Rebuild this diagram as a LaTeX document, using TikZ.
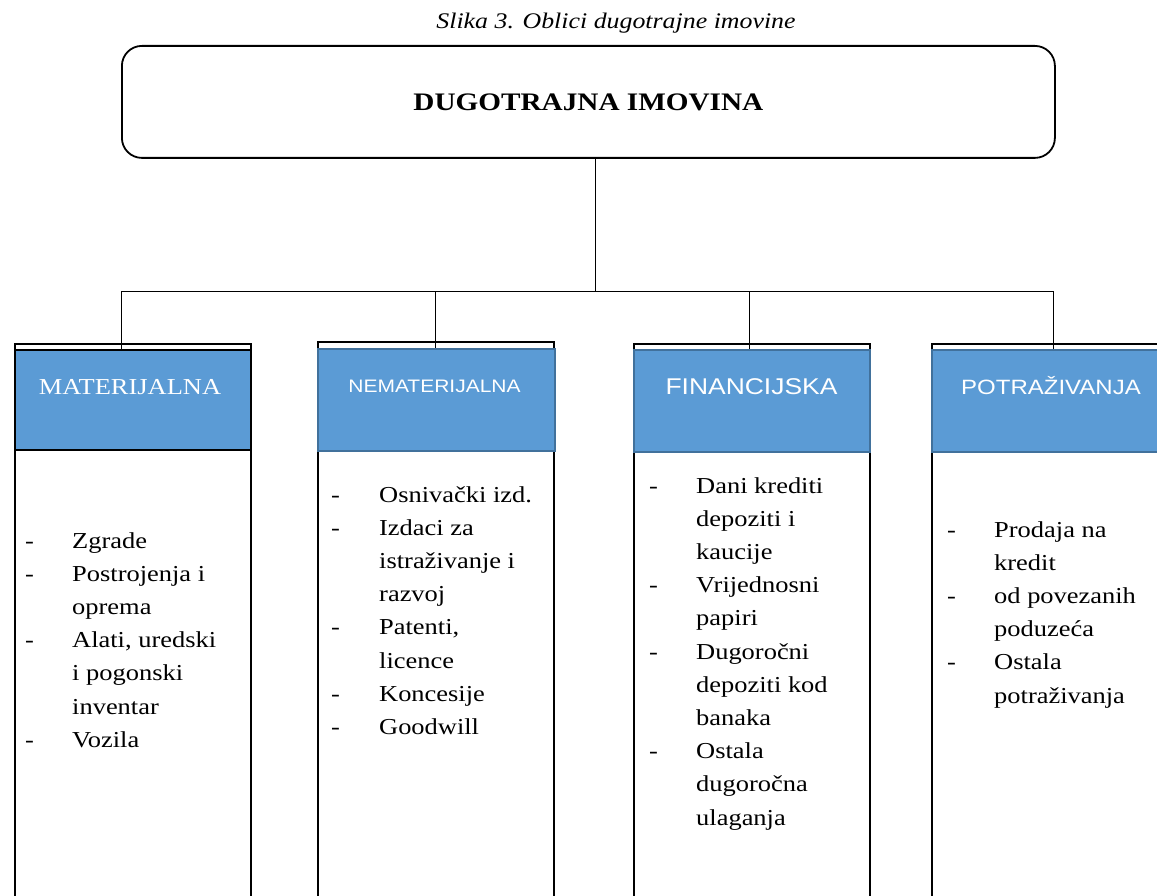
\documentclass[tikz,border=0pt]{standalone}
\usepackage{fontspec}
\setmainfont[FakeStretch=1.16]{Liberation Serif}
\newfontfamily\arialf[FakeStretch=1.16]{Liberation Sans}
\definecolor{hdrblue}{HTML}{5B9BD5}
\definecolor{hdredge}{HTML}{41719C}
\begin{document}
\begin{tikzpicture}[x=1pt,y=-1pt,
  colbox/.style={draw=black,line width=1.8pt,minimum height=700pt,anchor=north west,inner sep=0pt},
  hdrbox/.style={fill=hdrblue,draw=hdredge,line width=1.5pt,anchor=north west,inner sep=0pt},
  hdrtext/.style={text=white,anchor=base,inner sep=0pt},
  conn/.style={draw=black,line width=0.9pt},
  listtext/.style={anchor=base west,inner sep=0pt,font=\fontsize{22.8}{33.2}\selectfont},
  topbox/.style={draw=black,line width=1.8pt,rounded corners=20pt,minimum width=933pt,minimum height=112pt,anchor=north west,inner sep=0pt,font=\bfseries\fontsize{25.2}{30}\selectfont}
]
\clip (0,0) rectangle (1157,896);
\fill[white] (0,0) rectangle (1157,896);

% caption
\node[anchor=base,inner sep=0pt,font=\itshape\fontsize{22.3}{26}\selectfont] (cap) at (616,29) {Slika 3. Oblici dugotrajne imovine};

% top box
\node[topbox] (top) at (121,45) {DUGOTRAJNA IMOVINA};

% columns
\node[colbox,minimum width=236pt] (c1) at (14,343) {};
\node[colbox,minimum width=236pt] (c2) at (317,341) {};
\node[colbox,minimum width=236pt] (c3) at (633,343) {};
\node[colbox,minimum width=240pt] (c4) at (931,343) {};

% headers
\node[hdrbox,draw=black,line width=2.2pt,minimum width=236pt,minimum height=100pt] (h1) at (14,349) {};
\node[hdrbox,minimum width=237pt,minimum height=102pt] (h2) at (317,348) {};
\node[hdrbox,minimum width=236pt,minimum height=102pt] (h3) at (633,349) {};
\node[hdrbox,minimum width=240pt,minimum height=102pt] (h4) at (931,349) {};

\node[hdrtext,font=\fontsize{22.8}{26}\selectfont] (t1) at (130,394) {MATERIJALNA};
\node[hdrtext,font=\arialf\fontsize{18.1}{22}\selectfont] (t2) at (434.5,392.5) {NEMATERIJALNA};
\node[hdrtext,font=\arialf\fontsize{22.8}{26}\selectfont] (t3) at (751.5,394.5) {FINANCIJSKA};
\node[hdrtext,font=\arialf\fontsize{20.7}{24}\selectfont] (t4) at (1051,394.5) {POTRAŽIVANJA};

% connectors
\coordinate (bus) at (595,291);
\coordinate (b1) at (121,291);
\coordinate (b2) at (435,291);
\coordinate (b3) at (749,291);
\coordinate (b4) at (1053,291);
\draw[conn] (bus |- top.south) -- (bus);
\draw[conn] (b1) -- (b4);
\draw[conn] (b1) -- (b1 |- h1.north);
\draw[conn] (b2) -- (b2 |- h2.north);
\draw[conn] (b3) -- (b3 |- h3.north);
\draw[conn] (b4) -- (b4 |- h4.north);

% lists
\node[listtext] (l1) at (25,548) {\begin{tabular}[t]{@{}l@{}l@{}}
\makebox[47pt][l]{-} & Zgrade\\
\makebox[47pt][l]{-} & Postrojenja i\\
 & oprema\\
\makebox[47pt][l]{-} & Alati, uredski\\
 & i pogonski\\
 & inventar\\
\makebox[47pt][l]{-} & Vozila
\end{tabular}};
\node[listtext] (l2) at (331,502) {\begin{tabular}[t]{@{}l@{}l@{}}
\makebox[48pt][l]{-} & Osnivački izd.\\
\makebox[48pt][l]{-} & Izdaci za\\
 & istraživanje i\\
 & razvoj\\
\makebox[48pt][l]{-} & Patenti,\\
 & licence\\
\makebox[48pt][l]{-} & Koncesije\\
\makebox[48pt][l]{-} & Goodwill
\end{tabular}};
\node[listtext] (l3) at (649,493) {\begin{tabular}[t]{@{}l@{}l@{}}
\makebox[47pt][l]{-} & Dani krediti\\
 & depoziti i\\
 & kaucije\\
\makebox[47pt][l]{-} & Vrijednosni\\
 & papiri\\
\makebox[47pt][l]{-} & Dugoročni\\
 & depoziti kod\\
 & banaka\\
\makebox[47pt][l]{-} & Ostala\\
 & dugoročna\\
 & ulaganja
\end{tabular}};
\node[listtext] (l4) at (947,537) {\begin{tabular}[t]{@{}l@{}l@{}}
\makebox[47pt][l]{-} & Prodaja na\\
 & kredit\\
\makebox[47pt][l]{-} & od povezanih\\
 & poduzeća\\
\makebox[47pt][l]{-} & Ostala\\
 & potraživanja
\end{tabular}};
\end{tikzpicture}
\end{document}
